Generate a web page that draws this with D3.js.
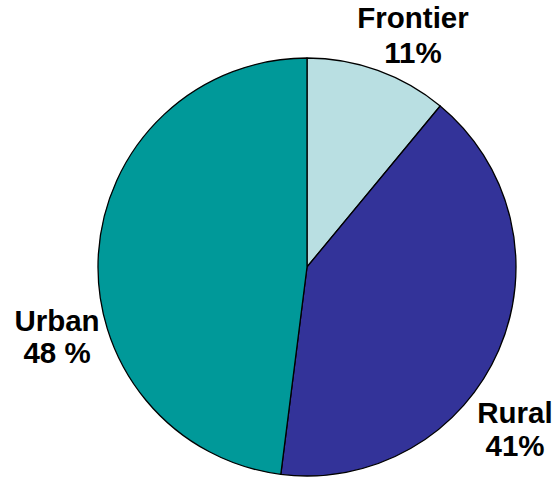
<!DOCTYPE html>
<html>
<head>
<meta charset="utf-8">
<script src="https://cdn.jsdelivr.net/npm/d3@7/dist/d3.min.js"></script>
<style>
  html, body { margin: 0; padding: 0; background: #fff; }
  svg { display: block; }
</style>
</head>
<body>
<svg id="chart" width="553" height="477"></svg>
<script>
// Share of area by category, drawn clockwise from 12 o'clock
const categories = ["Frontier", "Rural", "Urban"];
const shares = [11, 41, 48];
const valueLabels = ["11%", "41%", "48 %"];
const colors = ["#b9dfe2", "#333399", "#009999"];

const svg = d3.select("#chart");
const cx = 307, cy = 267, radius = 209;

const pie = d3.pie().sort(null).value(d => d)(shares);
const arc = d3.arc().innerRadius(0).outerRadius(radius);

const g = svg.append("g").attr("transform", `translate(${cx},${cy})`);
g.selectAll("path")
  .data(pie)
  .join("path")
  .attr("d", arc)
  .attr("fill", (d, i) => colors[i])
  .attr("stroke", "#000")
  .attr("stroke-width", 1.3)
  .attr("stroke-linejoin", "round");

// Label anchor positions, one per category
const labelPos = [
  { x: 413, y: 28, gap: 35 },
  { x: 515, y: 423, gap: 33 },
  { x: 57, y: 331, gap: 32 }
];

const labels = svg.append("g")
  .attr("font-family", "Liberation Sans, Arial, sans-serif")
  .attr("font-weight", "bold")
  .attr("font-size", 29.5)
  .attr("fill", "#000")
  .attr("text-anchor", "middle");

categories.forEach((c, i) => {
  const p = labelPos[i];
  const t = labels.append("text").attr("x", p.x).attr("y", p.y);
  t.append("tspan").attr("x", p.x).text(c);
  t.append("tspan").attr("x", p.x).attr("dy", p.gap).text(valueLabels[i]);
});
</script>
</body>
</html>
